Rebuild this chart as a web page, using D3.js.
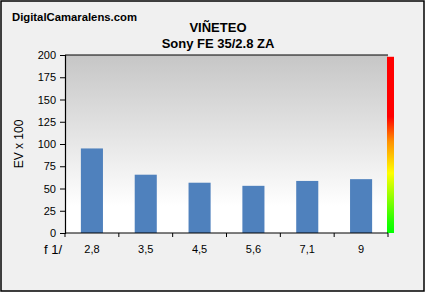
<!DOCTYPE html>
<html>
<head>
<meta charset="utf-8">
<script src="https://cdn.jsdelivr.net/npm/d3@7"></script>
<style>
  body { margin: 0; background: #fff; }
  svg text { font-family: "Liberation Sans", Arial, sans-serif; fill: #000; }
</style>
</head>
<body>
<svg id="chart" width="426" height="293"></svg>
<script>
const apertures = ["2,8", "3,5", "4,5", "5,6", "7,1", "9"];
const vignetting = [95, 65.5, 56.5, 53, 58.5, 60.5];
const yTicks = [0, 25, 50, 75, 100, 125, 150, 175, 200];

const svg = d3.select("svg#chart");
const W = 426, H = 293;
const margin = {left: 65, right: 38, top: 55, bottom: 60};

svg.append("rect")
    .attr("x", 1).attr("y", 1)
    .attr("width", W - 3).attr("height", H - 3)
    .attr("fill", "#f0f0f0")
    .attr("stroke", "#000")
    .attr("stroke-width", 1.5);

const defs = svg.append("defs");
const bg = defs.append("linearGradient").attr("id", "bg")
    .attr("x1", 0).attr("y1", 0).attr("x2", 0).attr("y2", 1);
bg.append("stop").attr("offset", "0%").attr("stop-color", "#c6c6c6");
bg.append("stop").attr("offset", "85%").attr("stop-color", "#ffffff");
bg.append("stop").attr("offset", "100%").attr("stop-color", "#ffffff");

const scale = defs.append("linearGradient").attr("id", "scale")
    .attr("x1", 0).attr("y1", 1).attr("x2", 0).attr("y2", 0);
[["0%", "#00ff00"], ["6%", "#20ff00"], ["34%", "#ffff00"], ["52%", "#ff9000"], ["66%", "#ff0000"], ["100%", "#ff0000"]]
    .forEach(([o, c]) => scale.append("stop").attr("offset", o).attr("stop-color", c));

const x = d3.scaleBand()
    .domain(apertures)
    .range([margin.left, W - margin.right])
    .paddingInner(0.59)
    .paddingOuter(0.295);

const y = d3.scaleLinear()
    .domain([0, 200])
    .range([H - margin.bottom, margin.top]);

svg.append("rect")
    .attr("x", margin.left).attr("y", y(200))
    .attr("width", W - margin.right - margin.left)
    .attr("height", y(0) - y(200))
    .attr("fill", "url(#bg)");

svg.append("rect")
    .attr("x", W - margin.right - 1).attr("y", y(198))
    .attr("width", 7)
    .attr("height", y(0) - y(198))
    .attr("fill", "url(#scale)");

svg.selectAll("rect.bar")
    .data(vignetting)
    .enter()
    .append("rect")
    .attr("class", "bar")
    .attr("x", (d, i) => x(apertures[i]))
    .attr("y", d => y(d))
    .attr("width", x.bandwidth())
    .attr("height", d => y(0) - y(d))
    .attr("fill", "#4f81bd");

// top frame of plot area
svg.append("path")
    .attr("d", `M${margin.left},${y(200)}H${W - margin.right}`)
    .attr("stroke", "#000").attr("stroke-width", 1.2);

const yAxis = svg.append("g")
    .attr("transform", `translate(${margin.left},0)`)
    .call(d3.axisLeft(y).tickValues(yTicks).tickSize(5).tickPadding(4));
yAxis.selectAll("text").style("font-size", "11px");
yAxis.select(".domain").attr("stroke-width", 1.2);

const step = x.step();
const boundaries = d3.range(apertures.length + 1).map(i => margin.left + i * step);
const xAxis = svg.append("g")
    .attr("transform", `translate(0,${y(0)})`);
xAxis.append("path")
    .attr("d", `M${margin.left},0H${W - margin.right}`)
    .attr("stroke", "#000").attr("stroke-width", 1.2);
xAxis.selectAll("line")
    .data(boundaries)
    .enter()
    .append("line")
    .attr("x1", d => d).attr("x2", d => d)
    .attr("y1", 0).attr("y2", 4)
    .attr("stroke", "#000");
xAxis.selectAll("text")
    .data(apertures)
    .enter()
    .append("text")
    .attr("x", d => x(d) + x.bandwidth() / 2)
    .attr("y", 20)
    .attr("text-anchor", "middle")
    .style("font-size", "11px")
    .text(d => d);

svg.append("text")
    .attr("x", 44).attr("y", 254)
    .attr("text-anchor", "start")
    .style("font-size", "13px")
    .text("f 1/");

svg.append("text")
    .attr("transform", `translate(23,${(y(0) + y(200)) / 2}) rotate(-90)`)
    .attr("text-anchor", "middle")
    .style("font-size", "12px")
    .text("EV x 100");

svg.append("text")
    .attr("x", 12).attr("y", 21)
    .style("font-size", "11.3px").style("font-weight", "bold")
    .text("DigitalCamaralens.com");

svg.append("text")
    .attr("x", 218).attr("y", 32)
    .attr("text-anchor", "middle")
    .style("font-size", "13px").style("font-weight", "bold")
    .text("VIÑETEO");

svg.append("text")
    .attr("x", 218).attr("y", 48)
    .attr("text-anchor", "middle")
    .style("font-size", "13px").style("font-weight", "bold")
    .text("Sony FE 35/2.8 ZA");
</script>
</body>
</html>
